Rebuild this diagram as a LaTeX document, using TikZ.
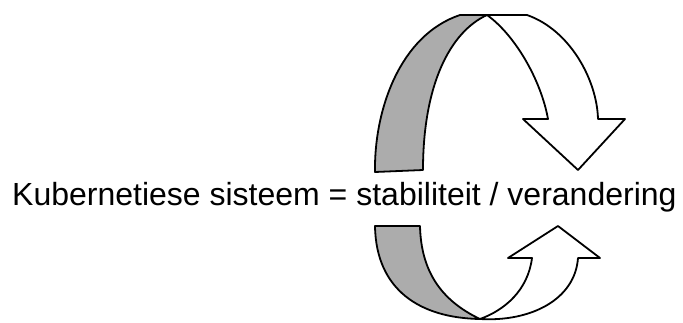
\documentclass[tikz,border=0pt]{standalone}
\usepackage{fontspec}
\setmainfont{Liberation Sans}
\begin{document}
\begin{tikzpicture}[x=1pt,y=-1pt,line join=round,line cap=round,
  back/.style={draw=black,line width=1.8pt,fill=gray!65},
  front/.style={draw=black,line width=1.8pt,fill=white}]
  \useasboundingbox (0,0) rectangle (683,322);
  % boonste pyl
  \draw[back] (375,172) .. controls (374,110) and (400,35) .. (460,15)
    -- (487,15) .. controls (450,32) and (423,85) .. (423,170) -- cycle;
  \draw[front] (487,15) -- (527,15) .. controls (570,30) and (597,80) .. (598,119)
    -- (625,119) -- (578,170) -- (523,119) -- (548,119)
    .. controls (541,80) and (515,35) .. (487,15) -- cycle;
  % onderste pyl
  \draw[back] (375,226) -- (420,226) .. controls (421,270) and (440,300) .. (480,319)
    .. controls (420,318) and (376,290) .. (375,226) -- cycle;
  \draw[front] (480,319) .. controls (530,322) and (575,300) .. (578,258)
    -- (600,258) -- (558,226) -- (508,258) -- (532,258)
    .. controls (528,290) and (505,310) .. (480,319) -- cycle;
  \node[anchor=base west,inner sep=0pt,font=\fontsize{32}{38}\selectfont] (stelsel) at (12,205)
    {Kubernetiese sisteem = stabiliteit / verandering};
\end{tikzpicture}
\end{document}
